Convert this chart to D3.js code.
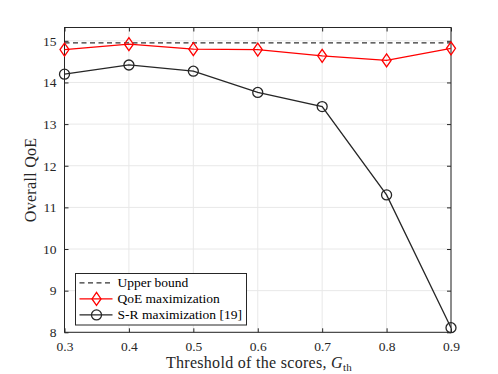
<!DOCTYPE html>
<html>
<head>
<meta charset="utf-8">
<script src="https://cdn.jsdelivr.net/npm/d3@7"></script>
<style>
  body { margin: 0; background: #fff; }
  text { font-family: "Liberation Serif", "DejaVu Serif", serif; }
</style>
</head>
<body>
<svg width="498" height="374"></svg>
<script>
var thresholds = [0.3, 0.4, 0.5, 0.6, 0.7, 0.8, 0.9];
var upperBound = [14.95, 14.95, 14.95, 14.95, 14.95, 14.95, 14.95];
var qoeMax = [14.79, 14.92, 14.8, 14.79, 14.64, 14.53, 14.82];
var srMax = [14.2, 14.42, 14.27, 13.76, 13.42, 11.3, 8.11];
var xTicks = [0.3, 0.4, 0.5, 0.6, 0.7, 0.8, 0.9];
var yTicks = [8, 9, 10, 11, 12, 13, 14, 15];

var svg = d3.select("svg");
var plotLeft = 64.5, plotRight = 451, plotTop = 27.5, plotBottom = 332.3;

var x = d3.scaleLinear().domain([0.3, 0.9]).range([plotLeft, plotRight]);
var y = d3.scaleLinear().domain([8, 15.32]).range([plotBottom, plotTop]);

// grid
var grid = svg.append("g");
grid.selectAll("line.gx").data(xTicks).enter().append("line")
	.attr("x1", d => x(d)).attr("x2", d => x(d))
	.attr("y1", plotTop).attr("y2", plotBottom)
	.style("stroke", "#e8e8e8");
grid.selectAll("line.gy").data(yTicks).enter().append("line")
	.attr("y1", d => y(d)).attr("y2", d => y(d))
	.attr("x1", plotLeft).attr("x2", plotRight)
	.style("stroke", "#e8e8e8");

// axes (ticks pointing inward)
var axisColor = "#262626";
function styleAxis(g) {
	g.select(".domain").remove();
	g.selectAll("line").style("stroke", axisColor);
	g.selectAll("text").style("font-size", "13.5px").style("fill", axisColor)
		.style("font-family", "'Liberation Serif', serif");
}
svg.append("g").attr("transform", "translate(0," + plotBottom + ")")
	.call(d3.axisBottom(x).tickValues(xTicks).tickFormat(d3.format(".1f")).tickSizeInner(-4).tickSizeOuter(0).tickPadding(9))
	.call(styleAxis);
svg.append("g").attr("transform", "translate(0," + plotTop + ")")
	.call(d3.axisTop(x).tickValues(xTicks).tickFormat("").tickSizeInner(-4).tickSizeOuter(0))
	.call(styleAxis);
svg.append("g").attr("transform", "translate(" + plotLeft + ",0)")
	.call(d3.axisLeft(y).tickValues(yTicks).tickSizeInner(-4).tickSizeOuter(0).tickPadding(8))
	.call(styleAxis);
svg.append("g").attr("transform", "translate(" + plotRight + ",0)")
	.call(d3.axisRight(y).tickValues(yTicks).tickFormat("").tickSizeInner(-4).tickSizeOuter(0))
	.call(styleAxis);

svg.append("rect")
	.attr("x", plotLeft).attr("y", plotTop)
	.attr("width", plotRight - plotLeft).attr("height", plotBottom - plotTop)
	.style("fill", "none").style("stroke", axisColor).style("stroke-width", 1);

var line = d3.line().x((d, i) => x(thresholds[i])).y(d => y(d));

// upper bound
svg.append("path").datum(upperBound).attr("d", line)
	.style("fill", "none").style("stroke", "#333").style("stroke-width", 1.3)
	.style("stroke-dasharray", "5,3.5");

// QoE maximization
svg.append("path").datum(qoeMax).attr("d", line)
	.style("fill", "none").style("stroke", "#ff0000").style("stroke-width", 1.3);
var diamond = "M0,-6.5L4.5,0L0,6.5L-4.5,0Z";
svg.selectAll("path.dia").data(qoeMax).enter().append("path")
	.attr("class", "dia")
	.attr("d", diamond)
	.attr("transform", (d, i) => "translate(" + x(thresholds[i]) + "," + y(d) + ")")
	.style("fill", "none").style("stroke", "#ff0000").style("stroke-width", 1.3);

// S-R maximization
svg.append("path").datum(srMax).attr("d", line)
	.style("fill", "none").style("stroke", "#262626").style("stroke-width", 1.3);
svg.selectAll("circle.sr").data(srMax).enter().append("circle")
	.attr("class", "sr")
	.attr("cx", (d, i) => x(thresholds[i])).attr("cy", d => y(d)).attr("r", 5)
	.style("fill", "none").style("stroke", "#262626").style("stroke-width", 1.3);

// legend
var legend = svg.append("g").attr("transform", "translate(75.5,273.5)");
legend.append("rect").attr("width", 171).attr("height", 51.5)
	.style("fill", "#fff").style("stroke", "#262626").style("stroke-width", 1);
var items = [
	{ label: "Upper bound", color: "#333", dash: "5,3.5", marker: null },
	{ label: "QoE maximization", color: "#ff0000", dash: null, marker: "diamond" },
	{ label: "S-R maximization [19]", color: "#262626", dash: null, marker: "circle" }
];
items.forEach(function (it, i) {
	var cy = 9.4 + i * 16;
	legend.append("line").attr("x1", 4).attr("x2", 37).attr("y1", cy).attr("y2", cy)
		.style("stroke", it.color).style("stroke-width", 1.3)
		.style("stroke-dasharray", it.dash);
	if (it.marker == "diamond") {
		legend.append("path").attr("d", diamond)
			.attr("transform", "translate(21," + cy + ")")
			.style("fill", "none").style("stroke", it.color).style("stroke-width", 1.3);
	} else if (it.marker == "circle") {
		legend.append("circle").attr("cx", 21).attr("cy", cy).attr("r", 5)
			.style("fill", "none").style("stroke", it.color).style("stroke-width", 1.3);
	}
	legend.append("text").attr("x", 42).attr("y", cy + 4.5).text(it.label)
		.style("font-size", "13.5px").style("fill", "#000");
});

// axis titles
var xt = svg.append("text").attr("x", 259).attr("y", 368)
	.attr("text-anchor", "middle").style("font-size", "16px").style("letter-spacing", "0.3px")
	.style("fill", "#262626");
xt.append("tspan").text("Threshold of the scores, ");
xt.append("tspan").text("G").style("font-style", "italic");
xt.append("tspan").text("th").attr("dy", 3).style("font-size", "11px");

svg.append("text")
	.attr("transform", "translate(36," + ((plotTop + plotBottom) / 2) + ") rotate(-90)")
	.attr("text-anchor", "middle").style("font-size", "16px").style("letter-spacing", "0.3px")
	.style("fill", "#262626")
	.text("Overall QoE");
</script>
</body>
</html>
